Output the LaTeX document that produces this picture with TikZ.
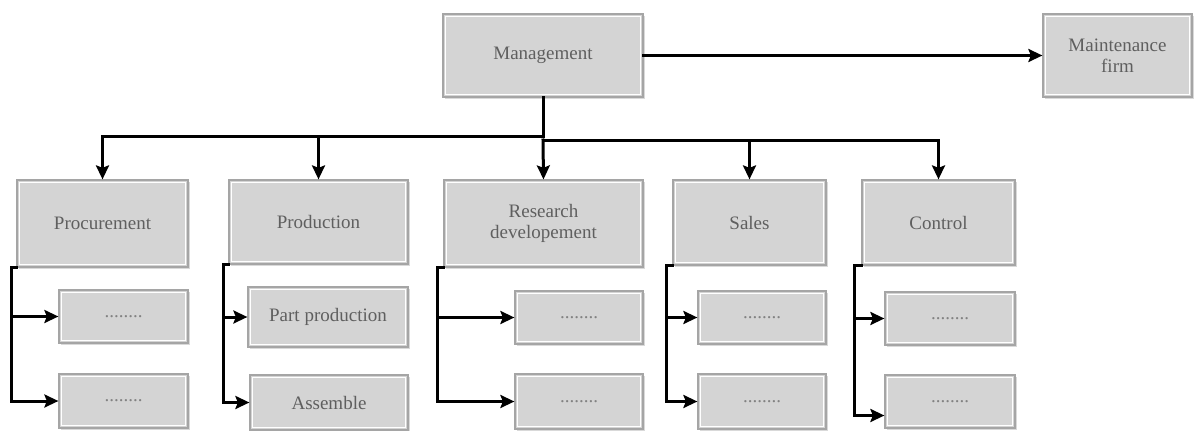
\documentclass[tikz,border=0pt]{standalone}
\usepackage{fontspec}
\setmainfont{Liberation Serif}
\usetikzlibrary{arrows.meta,shadows}
\definecolor{boxfill}{RGB}{212,212,212}
\definecolor{boxedge}{RGB}{165,165,165}
\definecolor{labelgray}{RGB}{95,95,95}
\definecolor{dotgray}{RGB}{130,130,130}
\tikzset{
  box/.style={rectangle, fill=boxfill, draw=boxedge, line width=1.2pt,
    align=center, text=labelgray, font=\fontsize{19}{21}\selectfont,
    inner sep=2pt,
    path picture={\draw[white, line width=1.6pt]
      ([shift={(2.6pt,-2.6pt)}]path picture bounding box.north west) rectangle
      ([shift={(-2.6pt,2.6pt)}]path picture bounding box.south east);},
    drop shadow={shadow xshift=1.8pt, shadow yshift=-1.8pt, opacity=0.3}},
  dots/.style={box, text=dotgray},
  link/.style={line width=3pt, line cap=rect},
  arr/.style={link, -{Stealth[length=14pt,width=13pt,inset=2.5pt]}},
}
\begin{document}
\begin{tikzpicture}[x=1pt, y=-1pt]
\useasboundingbox (0,0) rectangle (1195,431);

% top level
\node[box, minimum width=200pt, minimum height=83pt] (mg) at (543,55.5) {Management};
\node[box, minimum width=149pt, minimum height=83pt] (mf) at (1117.5,55.5) {Maintenance\\firm};

% departments
\node[box, minimum width=171pt, minimum height=87pt] (pr) at (102.5,223.5) {Procurement};
\node[box, minimum width=179pt, minimum height=84pt] (pd) at (318.5,222) {Production};
\node[box, minimum width=199pt, minimum height=87pt] (rd) at (543.5,223.5) {Research\\developement};
\node[box, minimum width=153pt, minimum height=85pt] (sa) at (749.5,222.5) {Sales};
\node[box, minimum width=153pt, minimum height=85pt] (co) at (938.5,222.5) {Control};

% sub units
\node[dots, minimum width=129pt, minimum height=53pt] (pr1) at (123.5,316.5) {........};
\node[dots, minimum width=129pt, minimum height=54pt] (pr2) at (123.5,401) {........};
\node[box, minimum width=160pt, minimum height=60pt] (pd1) at (328,317) {Part production};
\node[box, minimum width=158pt, minimum height=55pt] (pd2) at (329,402.5) {Assemble};
\node[dots, minimum width=128pt, minimum height=53pt] (rd1) at (579,317.5) {........};
\node[dots, minimum width=128pt, minimum height=55pt] (rd2) at (579,401.5) {........};
\node[dots, minimum width=128pt, minimum height=53pt] (sa1) at (762,317.5) {........};
\node[dots, minimum width=128pt, minimum height=55pt] (sa2) at (762,401.5) {........};
\node[dots, minimum width=130pt, minimum height=53pt] (co1) at (950,318.5) {........};
\node[dots, minimum width=130pt, minimum height=53pt] (co2) at (950,401.5) {........};

% management links
\draw[arr] (mg.east) -- (mf.west);
\coordinate (jl) at (543,136);
\coordinate (jr) at (543,140);
\draw[link] (mg.south) -- (jl);
\draw[arr] (jr) -- (rd.north);
\draw[arr] (jl) -| (pr.north);
\draw[arr] (jl) -| (pd.north);
\draw[arr] (jr) -| (sa.north);
\draw[arr] (jr) -| (co.north);

% department branches
\draw[arr] (pr.south west) -- ++(-5,0) coordinate (prb) |- (pr2.west);
\draw[arr] (prb |- pr1.west) -- (pr1.west);
\draw[arr] (pd.south west) -- ++(-5,0) coordinate (pdb) |- (pd2.west);
\draw[arr] (pdb |- pd1.west) -- (pd1.west);
\draw[arr] (rd.south west) -- ++(-6,0) coordinate (rdb) |- (rd2.west);
\draw[arr] (rdb |- rd1.west) -- (rd1.west);
\draw[arr] (sa.south west) -- ++(-6,0) coordinate (sab) |- (sa2.west);
\draw[arr] (sab |- sa1.west) -- (sa1.west);
\draw[arr] (co.south west) -- ++(-7,0) coordinate (cob) |- ([yshift=-14pt]co2.west);
\draw[arr] (cob |- co1.west) -- (co1.west);
\end{tikzpicture}
\end{document}
